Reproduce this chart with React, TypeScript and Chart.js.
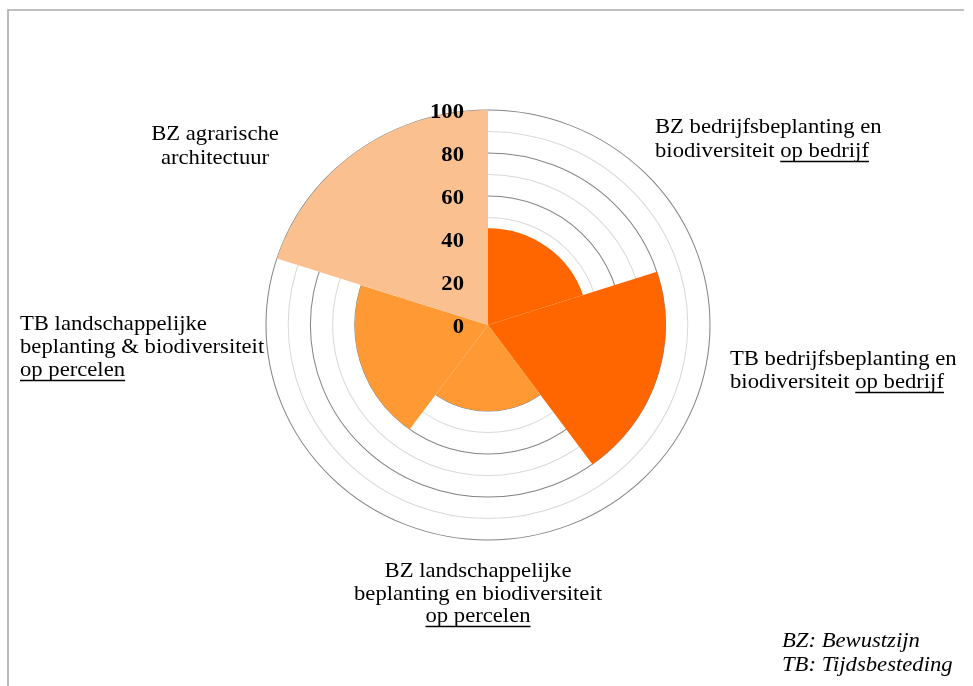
import React, { useEffect, useRef } from "react";
import { Chart, registerables } from "chart.js";

Chart.register(...registerables);

// ---------- data ----------
const categories = [
  "BZ bedrijfsbeplanting en biodiversiteit op bedrijf",
  "TB bedrijfsbeplanting en biodiversiteit op bedrijf",
  "BZ landschappelijke beplanting en biodiversiteit op percelen",
  "TB landschappelijke beplanting & biodiversiteit op percelen",
  "BZ agrarische architectuur",
];
const values = [45, 80, 40, 60, 100];
const tickValues = [0, 20, 40, 60, 80, 100];
const tickLabels = ["0", "20", "40", "60", "80", "100"];
// label text per category, split in lines; _text_ = underlined
const categoryLines = [
  ["BZ bedrijfsbeplanting en", "biodiversiteit _op bedrijf_"],
  ["TB bedrijfsbeplanting en", "biodiversiteit _op bedrijf_"],
  ["BZ landschappelijke", "beplanting en biodiversiteit", "_op percelen_"],
  ["TB landschappelijke", "beplanting & biodiversiteit", "_op percelen_"],
  ["BZ agrarische", "architectuur"],
];
const legendNotes = ["BZ: Bewustzijn", "TB: Tijdsbesteding"];

// ---------- styles / layout ----------
const segmentColors = ["#FF6600", "#FF6600", "#FF9933", "#FF9933", "#FAC090"];
const labelLayout = [
  { x: 655, y: 133, align: "left", lh: 24 },
  { x: 730, y: 365, align: "left", lh: 23 },
  { x: 478, y: 577, align: "center", lh: 22.5 },
  { x: 20, y: 330, align: "left", lh: 23 },
  { x: 215, y: 140, align: "center", lh: 24 },
];
const FONT = '"Liberation Serif", "Times New Roman", serif';
const STRETCH_X = 222 / 215;
const TEXT_SX = 1.03;

function parseLine(line: string) {
  const parts = line.split("_");
  return parts.map((t, i) => ({ text: t, u: i % 2 === 1 })).filter((p) => p.text.length > 0);
}

function fillStretched(ctx: any, text: string, x: number, y: number) {
  ctx.save();
  ctx.translate(x, y);
  ctx.scale(TEXT_SX, 1);
  ctx.fillText(text, 0, 0);
  ctx.restore();
}

const stretchPlugin = {
  id: "stretch",
  beforeDraw(chart: any) {
    const r = chart.scales.r;
    const ctx = chart.ctx;
    ctx.save();
    ctx.translate(r.xCenter, r.yCenter);
    ctx.scale(STRETCH_X, 1);
    ctx.translate(-r.xCenter, -r.yCenter);
  },
  afterDatasetsDraw(chart: any) {
    chart.ctx.restore();
  },
};

const decorPlugin = {
  id: "decor",
  afterDraw(chart: any) {
    const ctx = chart.ctx;
    const r = chart.scales.r;
    ctx.save();
    // frame
    ctx.strokeStyle = "#ababab";
    ctx.lineWidth = 1.6;
    ctx.beginPath();
    ctx.moveTo(8, 686);
    ctx.lineTo(8, 10);
    ctx.lineTo(964, 10);
    ctx.stroke();

    // tick labels
    ctx.fillStyle = "#000";
    ctx.font = "bold 22px " + FONT;
    ctx.textAlign = "right";
    ctx.textBaseline = "alphabetic";
    tickValues.forEach((v, i) => {
      const y = r.yCenter - r.getDistanceFromCenterForValue(v);
      fillStretched(ctx, tickLabels[i], r.xCenter - 24, y + 8);
    });

    // category labels
    ctx.font = "22px " + FONT;
    ctx.textAlign = "left";
    ctx.lineWidth = 1.5;
    ctx.strokeStyle = "#000";
    categoryLines.forEach((lines, ci) => {
      const L = labelLayout[ci];
      lines.forEach((line, li) => {
        const parts = parseLine(line);
        const widths = parts.map((p) => ctx.measureText(p.text).width * TEXT_SX);
        const total = widths.reduce((a, b) => a + b, 0);
        let x = L.align === "center" ? L.x - total / 2 : L.x;
        const y = L.y + li * L.lh;
        parts.forEach((p, pi) => {
          fillStretched(ctx, p.text, x, y);
          if (p.u) {
            ctx.beginPath();
            ctx.moveTo(x, y + 4.5);
            ctx.lineTo(x + widths[pi], y + 4.5);
            ctx.stroke();
          }
          x += widths[pi];
        });
      });
    });

    // legend notes
    ctx.font = "italic 22px " + FONT;
    legendNotes.forEach((t, i) => {
      fillStretched(ctx, t, 782, 647 + i * 24);
    });
    ctx.restore();
  },
};

export default function App() {
  const ref = useRef<HTMLCanvasElement | null>(null);
  useEffect(() => {
    if (!ref.current) return;
    const chart = new Chart(ref.current, {
      type: "polarArea",
      data: {
        labels: categories,
        datasets: [
          {
            data: values,
            backgroundColor: segmentColors,
            borderWidth: 0,
            clip: false as any,
          },
        ],
      },
      options: {
        responsive: false,
        animation: false,
        devicePixelRatio: 1,
        layout: { padding: { top: 110, bottom: 146, left: 258, right: 255 } },
        plugins: {
          legend: { display: false },
          tooltip: { enabled: false },
          title: { display: false },
        },
        scales: {
          r: {
            min: 0,
            max: 100,
            ticks: { display: false, stepSize: 10 },
            pointLabels: { display: false },
            angleLines: { display: false },
            grid: {
              lineWidth: 1,
              color: (c: any) =>
                c.tick && c.tick.value % 20 === 0 ? "#858585" : "#d9d9d9",
            },
          },
        },
      },
      plugins: [stretchPlugin, decorPlugin],
    });
    return () => chart.destroy();
  }, []);
  return (
    <div
      style={{
        position: "absolute",
        left: 0,
        top: 0,
        width: 973,
        height: 686,
        overflow: "hidden",
        background: "#fff",
      }}
    >
      <canvas ref={ref} width={973} height={686} style={{ width: 973, height: 686, display: "block" }} />
    </div>
  );
}
